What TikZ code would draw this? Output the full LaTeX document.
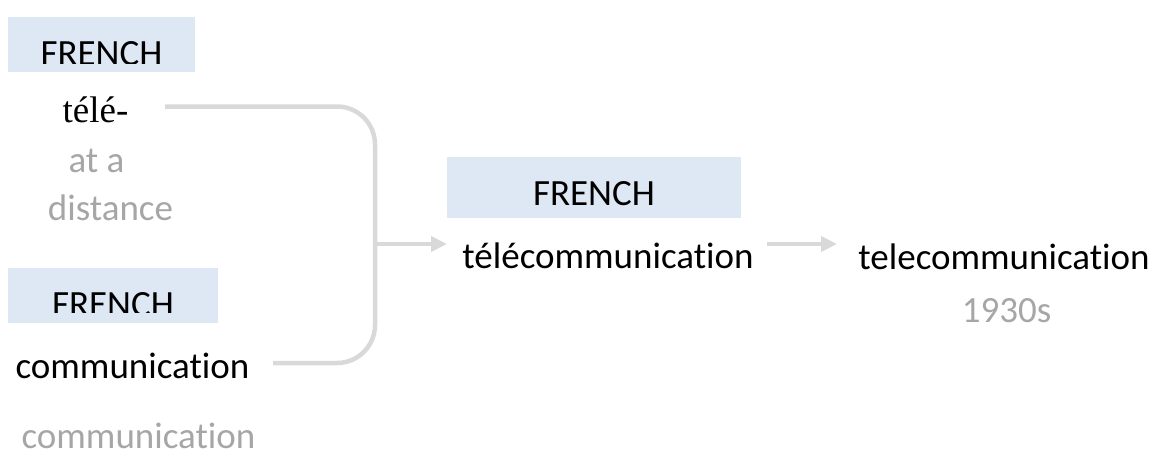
\documentclass[tikz,border=0pt]{standalone}
\usepackage{fontspec}
\setmainfont{Carlito}[Ligatures=NoCommon]
\newfontfamily\serifword{Liberation Serif}
\usetikzlibrary{arrows.meta}
\definecolor{langfill}{HTML}{DEE8F4}
\definecolor{glossgray}{HTML}{A6A6A6}
\definecolor{linkgray}{HTML}{D9D9D9}
\tikzset{
  word/.style={anchor=base, inner sep=0pt, font=\fontsize{37}{44}\selectfont, text=black},
  gloss/.style={word, text=glossgray},
  lang/.style={word},
  langbox/.style={fill=langfill, draw=none},
  link/.style={draw=linkgray, line width=4.5pt},
  linkarrow/.style={link, -{Triangle[length=16pt,width=15pt]}}
}
\begin{document}
\begin{tikzpicture}[x=1pt,y=-1pt]
\useasboundingbox (0,0) rectangle (1156,455);

% language labels (the first two are cut off at the bottom of their frames)
\path[langbox] (8,17) rectangle (195,72);
\begin{scope}
  \clip (8,17) rectangle (195,63);
  \node[lang] (lang1) at (101.5,65.5) {FRENCH};
\end{scope}
\path[langbox] (8,268) rectangle (218,323);
\begin{scope}
  \clip (8,268) rectangle (218,312);
  \node[lang] (lang2) at (113,316.5) {FRENCH};
\end{scope}
\path[langbox] (447,157) rectangle (741,218);
\node[lang] (lang3) at (594,205) {FRENCH};

% source words and glosses
\node[word, font=\serifword\fontsize{37}{44}\selectfont] (tele) at (95.5,122) {télé-};
\node[gloss] (gloss1a) at (96.5,172) {at a};
\node[gloss] (gloss1b) at (110.5,220) {distance};
\node[word] (comm) at (132.5,378) {communication};
\node[gloss] (gloss2) at (138.5,448) {communication};

% combined word and its descendant
\node[word] (telecomm) at (608,268) {télécommunication};
\node[word] (final) at (1004,269) {telecommunication};
\node[gloss] (date) at (1006.5,322) {1930s};

% connectors
\coordinate (teleout) at (165,106.5);
\coordinate (commout) at (273,363);
\coordinate (bend) at (375,106.5);
\coordinate (join) at (375,244);
\coordinate (joinend) at (447,244);
\coordinate (nextstart) at (767,244);
\coordinate (nextend) at (837,244);

\draw[link, rounded corners=38pt] (teleout) -- (bend) |- (commout);
\draw[linkarrow] (join) -- (joinend);
\draw[linkarrow] (nextstart) -- (nextend);
\end{tikzpicture}
\end{document}
